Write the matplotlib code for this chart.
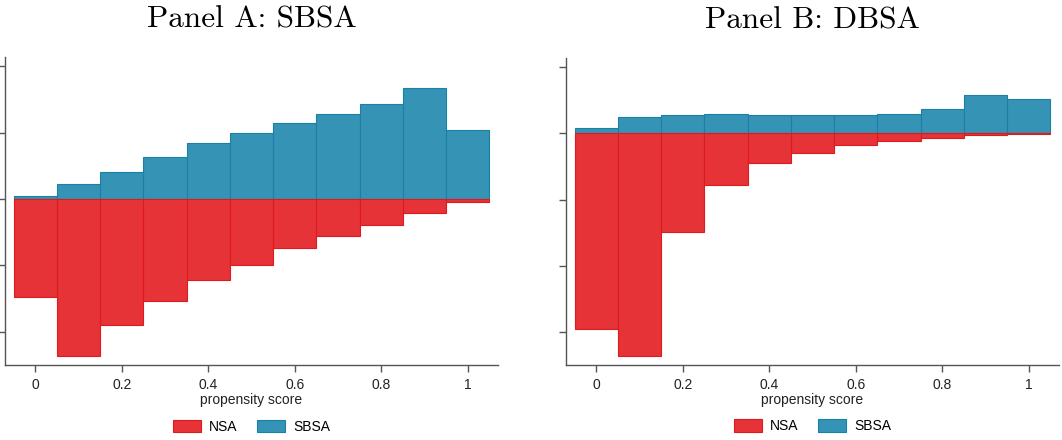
import matplotlib
matplotlib.use("Agg")
import matplotlib.pyplot as plt
from matplotlib.patches import Patch
import numpy as np

# propensity-score bin centres
bins = [0.0, 0.1, 0.2, 0.3, 0.4, 0.5, 0.6, 0.7, 0.8, 0.9, 1.0]

# Panel A: SBSA (density, upward) and NSA (density, downward)
a_sbsa = [0.05, 0.23, 0.41, 0.63, 0.84, 0.99, 1.14, 1.28, 1.43, 1.68, 1.04]
a_nsa = [1.47, 2.36, 1.89, 1.53, 1.22, 0.99, 0.74, 0.56, 0.39, 0.21, 0.05]

# Panel B: DBSA
b_sbsa = [0.07, 0.245, 0.27, 0.29, 0.27, 0.27, 0.27, 0.28, 0.36, 0.58, 0.51]
b_nsa = [2.95, 3.36, 1.49, 0.78, 0.45, 0.30, 0.18, 0.12, 0.07, 0.035, 0.015]

titles = ["Panel A: SBSA", "Panel B: DBSA"]
legend_labels = ["NSA", "SBSA"]
xticks = [0, 0.2, 0.4, 0.6, 0.8, 1.0]
xticklabels = ["0", "0.2", "0.4", "0.6", "0.8", "1"]

RED = "#e63337"
RED_E = "#dd1a1e"
BLUE = "#3593b5"
BLUE_E = "#1b7fa6"
AXC = "#555555"

fig = plt.figure(figsize=(10.62, 4.4), dpi=100)
axA = fig.add_axes([5 / 1062, 75 / 440, 493 / 1062, 308 / 440])
axB = fig.add_axes([566 / 1062, 75 / 440, 493 / 1062, 307 / 440])

panels = [
    (axA, a_sbsa, a_nsa, (-2.5, 2.14), [-2, -1, 0, 1, 2]),
    (axB, b_sbsa, b_nsa, (-3.49, 1.13), [-3, -2, -1, 0, 1]),
]

for (ax, up, down, ylim, yt), title in zip(panels, titles):
    ax.bar(bins, up, width=0.1, color=BLUE, edgecolor=BLUE_E, linewidth=0.8)
    ax.bar(bins, [-v for v in down], width=0.1, color=RED, edgecolor=RED_E, linewidth=0.8)
    ax.set_xlim(-0.07, 1.07)
    ax.set_ylim(*ylim)
    ax.set_yticks(yt)
    ax.set_yticklabels([])
    ax.set_xticks(xticks)
    ax.set_xticklabels(xticklabels, fontfamily="Liberation Sans", fontsize=10, color="#222222")
    ax.set_xlabel("propensity score", fontfamily="Liberation Sans", fontsize=10,
                  color="#222222", labelpad=1)
    for s in ["top", "right"]:
        ax.spines[s].set_visible(False)
    for s in ["left", "bottom"]:
        ax.spines[s].set_color(AXC)
        ax.spines[s].set_linewidth(1.0)
    ax.tick_params(axis="both", direction="out", length=5, width=1.0, color=AXC, pad=4)
    ax.set_title(title, fontfamily="cmr10", fontsize=22.5, pad=21)
    handles = [Patch(facecolor=RED, edgecolor=RED_E, linewidth=0.8),
               Patch(facecolor=BLUE, edgecolor=BLUE_E, linewidth=0.8)]
    ax.legend(handles, legend_labels, ncol=2, frameon=False, loc="center",
              bbox_to_anchor=(0.5, -0.2), prop={"family": "Liberation Sans", "size": 10},
              handlelength=2.0, handleheight=1.0, columnspacing=1.4, handletextpad=0.6,
              borderpad=0.0)

fig.savefig("out.png", dpi=100)
